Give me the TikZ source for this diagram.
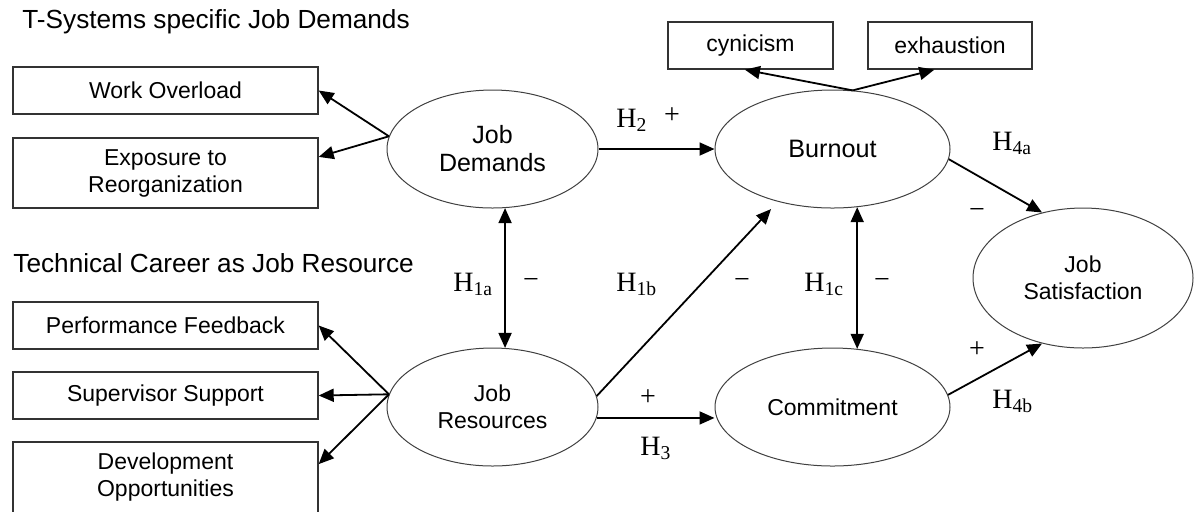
\documentclass[tikz,border=0pt]{standalone}
\usepackage{fontspec}
\setmainfont{Liberation Serif}
\setsansfont{Liberation Sans}
\usetikzlibrary{arrows.meta,shapes.geometric}

\begin{document}
\begin{tikzpicture}[x=0.5pt,y=-0.5pt,>={Triangle[length=7.5pt,width=6.5pt]}]
\tikzstyle{every node} = [inner sep=0pt];
\tikzstyle{title} = [anchor=base west,font=\sffamily\fontsize{13.1}{15}\selectfont];
\tikzstyle{box} = [rectangle,draw=black!80,line width=0.7pt,align=center,minimum width=152.5pt,minimum height=23.5pt,font=\sffamily\fontsize{11.5}{13.5}\selectfont];
\tikzstyle{latent} = [ellipse,draw=black!75,line width=0.5pt,align=center,minimum width=105.5pt,minimum height=59pt,font=\sffamily\fontsize{11.5}{13.5}\selectfont];
\tikzstyle{hyp} = [anchor=base west,font=\fontsize{14}{16}\selectfont];
\tikzstyle{sign} = [font=\fontsize{14}{16}\selectfont];
\tikzstyle{link} = [line width=0.9pt];
\useasboundingbox (0,0) rectangle (1194,511);
% group titles
\node[title] (t1) at (22,28.5) {T-Systems specific Job Demands};
\node[title] (t2) at (13,272) {Technical Career as Job Resource};
% indicators
\node[box] (wo) at (165.5,90.5) {Work Overload};
\node[box,minimum height=35pt] (ex) at (165.5,173) {Exposure to\\Reorganization};
\node[box] (pf) at (165.5,325.5) {Performance Feedback};
\node[box] (ss) at (165.5,395.5) {Supervisor Support};
\node[box,minimum height=35.5pt] (dv) at (165.5,477.5) {Development\\Opportunities};
\node[box,minimum width=82.5pt] (cy) at (750.5,45.5) {cynicism};
\node[box,minimum width=82pt] (eh) at (950,45.5) {exhaustion};
% constructs
\node[latent,font=\sffamily\fontsize{12.5}{14}\selectfont] (jd) at (492.5,149) {Job\\Demands};
\node[latent] (jr) at (492.5,407) {Job\\Resources};
\node[latent,minimum width=117.5pt,font=\sffamily\fontsize{12.6}{14}\selectfont] (bo) at (832.5,149) {Burnout};
\node[latent,minimum width=117.5pt] (cm) at (832.5,407) {Commitment};
\node[latent,minimum width=110pt,minimum height=70pt] (js) at (1083,278) {Job\\Satisfaction};
% connectors
\draw[style=link] (jd.173) edge[->] (wo.east);
\draw[style=link] (jd.173) edge[->] (ex.6.7);
\draw[style=link] (jr.173) edge[->] (pf.east);
\draw[style=link] (jr.173) edge[->] (ss.east);
\draw[style=link] (jr.173) edge[->] (dv.5.8);
\draw[style=link] (bo.71.5) edge[->] (cy.257);
\draw[style=link] (bo.71.5) edge[->] (eh.237.5);
\draw[style=link] (jd.east) edge[->] (bo.west);
\draw[style=link] (jd.-78) edge[<->] (jr.78);
\draw[style=link] (jr.6.6) edge[->,shorten >=5pt] (bo.224.5);
\draw[style=link] (bo.-67) edge[<->] (cm.67);
\draw[style=link] (jr.-6.6) edge[->] (jr.-6.6 -| cm.west);
\draw[style=link] (bo.-5.4) edge[->] (js.122);
\draw[style=link] (cm.6) edge[->] (js.238);
% hypotheses
\node[hyp] (h2) at (616,127) {H\textsubscript{2}};
\node[sign] (p2) at (672,116) {+};
\node[hyp] (h4a) at (992,150) {H\textsubscript{4a}};
\node[sign] (m4a) at (977,213) {−};
\node[hyp] (h4b) at (992,408) {H\textsubscript{4b}};
\node[sign] (p4b) at (977,350) {+};
\node[hyp] (h1a) at (453,291) {H\textsubscript{1a}};
\node[sign] (m1a) at (531,283) {−};
\node[hyp] (h1b) at (616,291) {H\textsubscript{1b}};
\node[sign] (m1b) at (742,283) {−};
\node[hyp] (h1c) at (804,291) {H\textsubscript{1c}};
\node[sign] (m1c) at (882,283) {−};
\node[sign] (p3) at (648,398) {+};
\node[hyp] (h3) at (640,455) {H\textsubscript{3}};
\end{tikzpicture}
\end{document}
